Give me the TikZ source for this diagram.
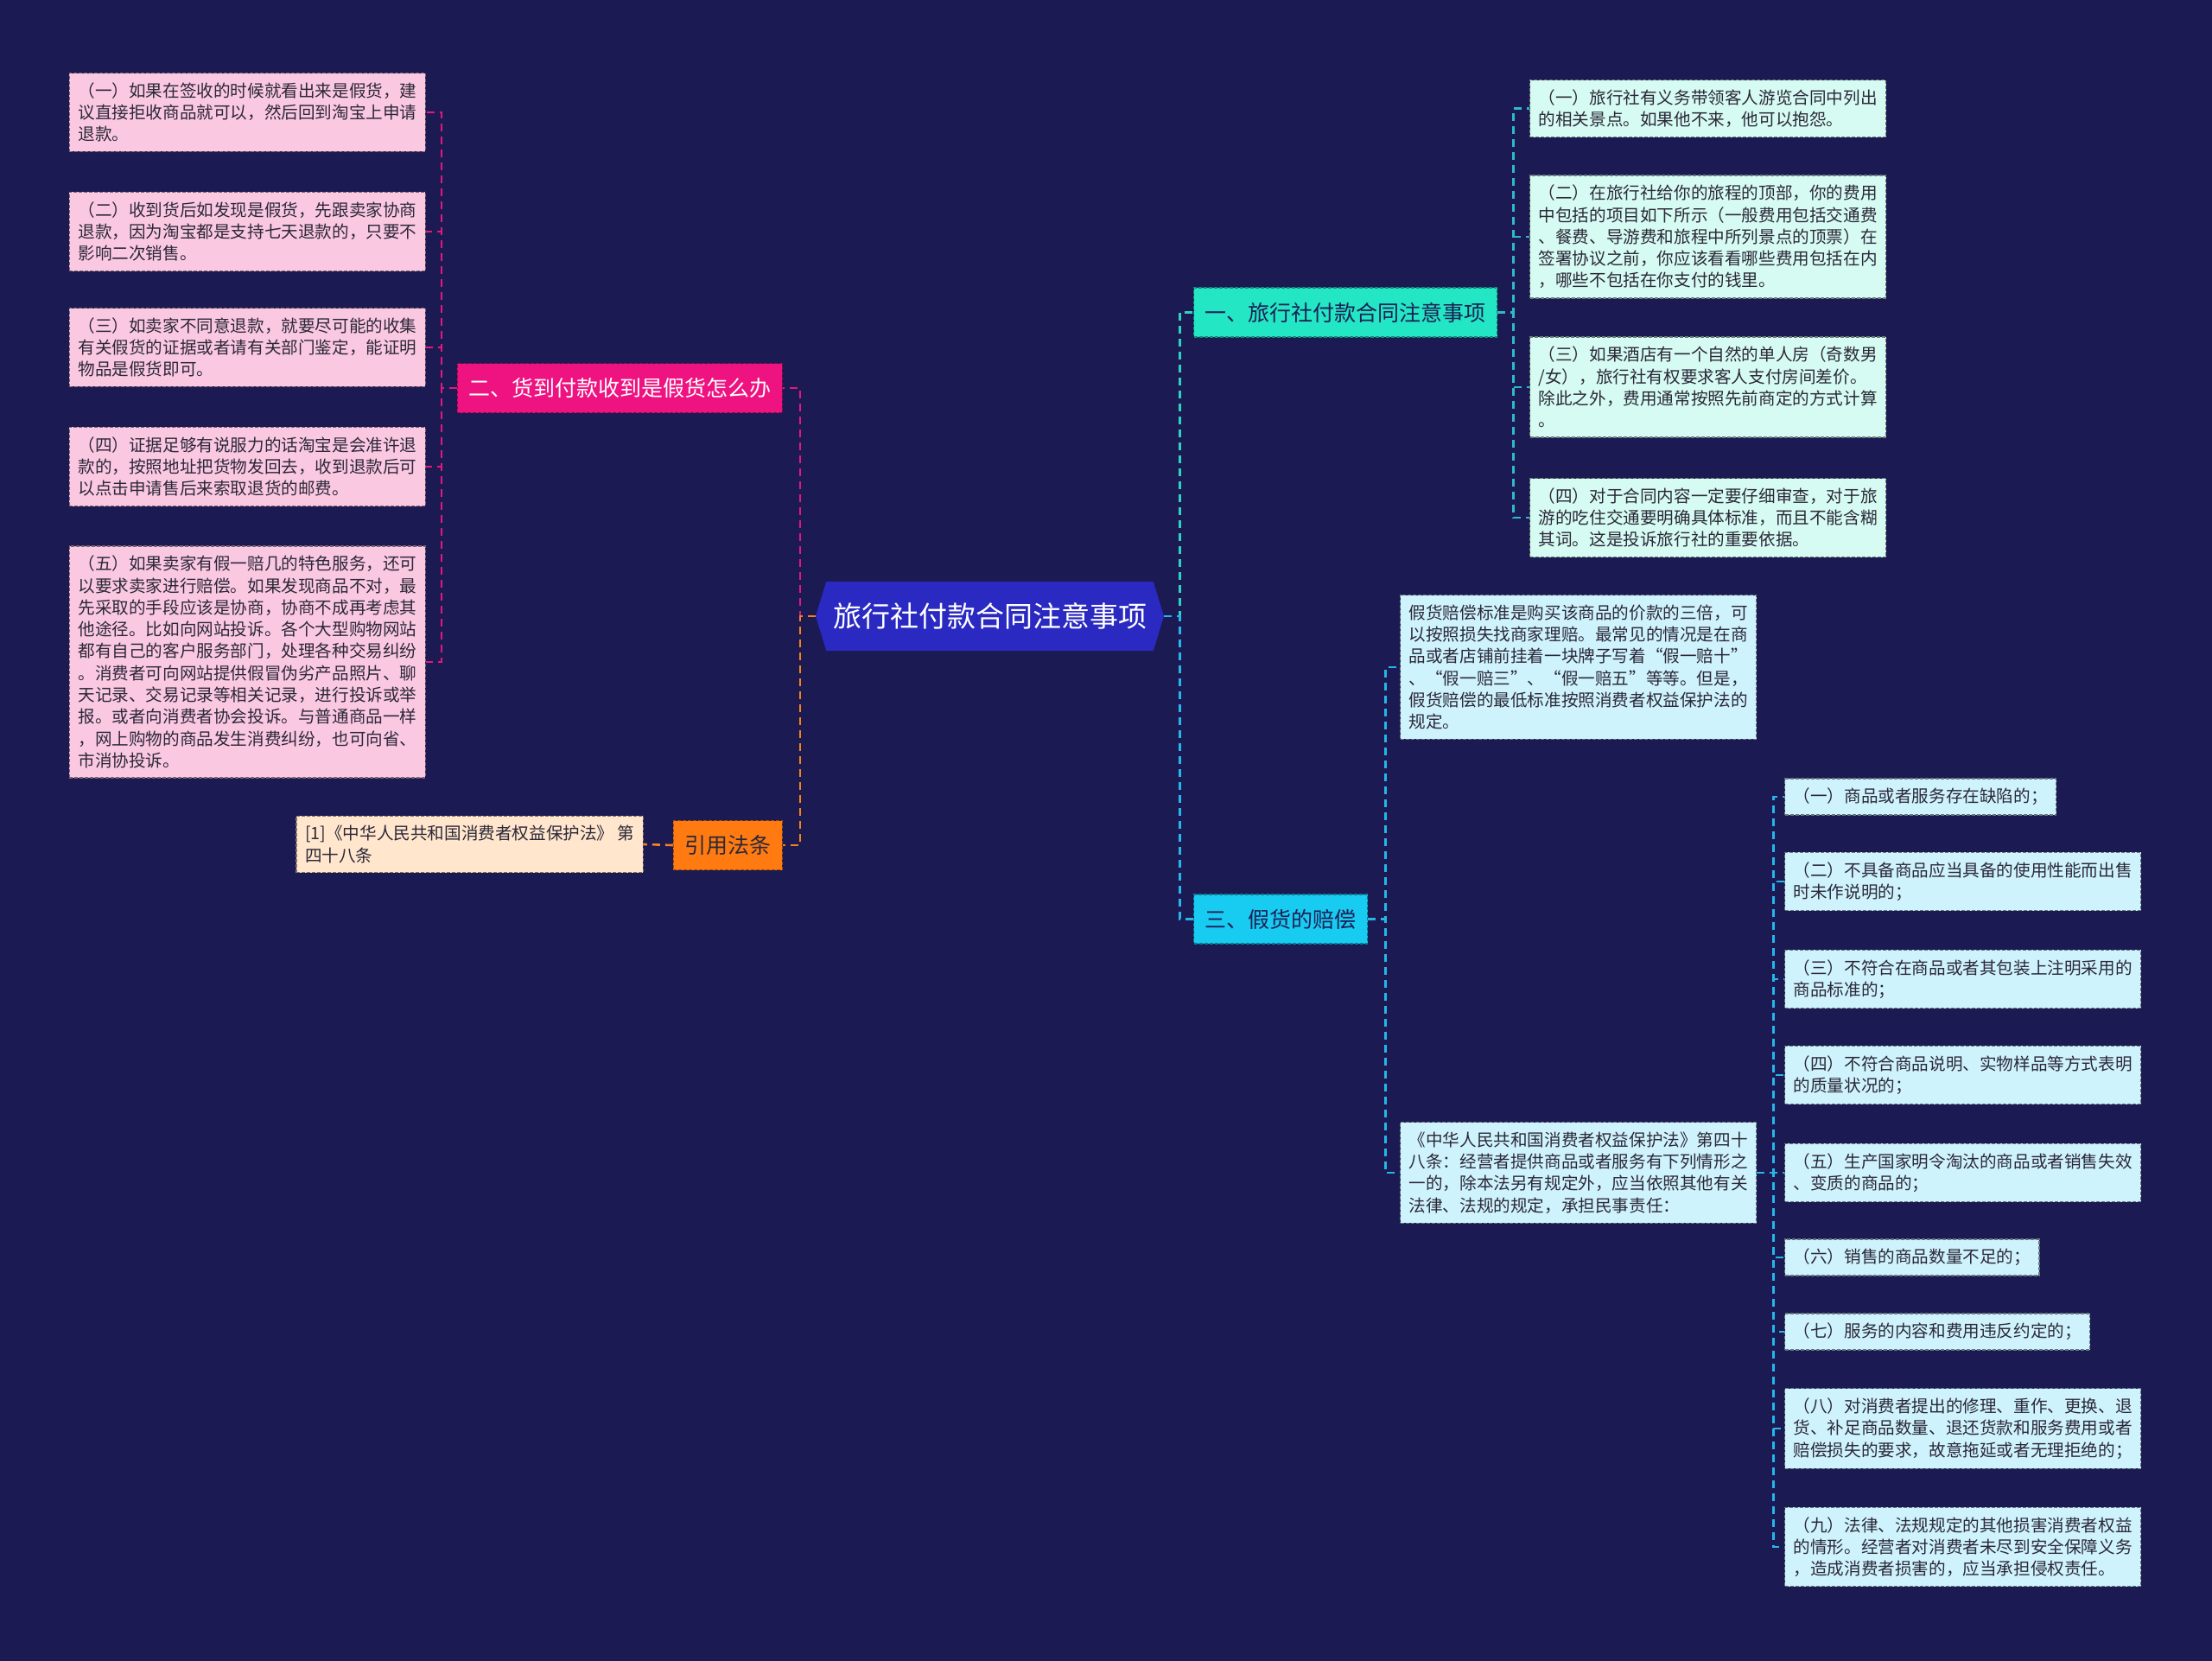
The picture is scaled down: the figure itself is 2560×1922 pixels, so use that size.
\documentclass[tikz,border=0pt]{standalone}
\usepackage{fontspec}
\setmainfont{Noto Sans CJK SC}
\usepackage{tikz}
\usetikzlibrary{shapes.symbols}
\definecolor{bgnavy}{HTML}{1C1A52}
\definecolor{hubblue}{HTML}{2A29C2}
\definecolor{mintfill}{HTML}{22E6C4}
\definecolor{cyanfill}{HTML}{17CBF1}
\definecolor{pinkfill}{HTML}{EE1380}
\definecolor{orangefill}{HTML}{FF7B12}
\definecolor{mintleaf}{HTML}{D6FBF2}
\definecolor{cyanleaf}{HTML}{CFF3FC}
\definecolor{pinkleaf}{HTML}{FBC8E2}
\definecolor{peachleaf}{HTML}{FFE6CC}
\definecolor{mintline}{HTML}{2BD3C2}
\definecolor{mintsub}{HTML}{2EB9CC}
\definecolor{cyanline}{HTML}{26B6EA}
\definecolor{pinkline}{HTML}{E2187F}
\definecolor{orangeline}{HTML}{F5821F}
\definecolor{darktext}{HTML}{2B2838}
\definecolor{navytext}{HTML}{1E1F55}

\begin{document}
\begin{tikzpicture}[
  x=1pt, y=-1pt,
  hub/.style={signal, signal to=west and east, signal pointer angle=146,
              fill=hubblue, text=white, font=\fontsize{33}{38}\selectfont,
              minimum width=403pt, minimum height=80pt, inner sep=0pt},
  topic/.style={fill=#1, draw=#1!60!black, line width=1.2pt,
                dash pattern=on 4pt off 2pt, minimum height=57pt,
                inner xsep=13pt, font=\fontsize{25}{30}\selectfont},
  leaf/.style={fill=#1, draw=#1!50!black, line width=1.2pt,
               dash pattern=on 4pt off 2pt, align=left, text=darktext,
               inner xsep=10pt, inner ysep=11pt,
               font=\fontsize{19.6}{25.3}\selectfont},
  link/.style={draw=#1, line width=2.6pt, dash pattern=on 9pt off 6pt}
]
  \useasboundingbox (0,0) rectangle (2560,1922);
  \fill[bgnavy] (0,0) rectangle (2560,1922);

  % centre
  \node[hub] (hub) at (1145.5,713) {旅行社付款合同注意事项};

  % main topics
  \node[topic=mintfill, text=navytext, anchor=west] (contract) at (1381,361.5) {一、旅行社付款合同注意事项};
  \node[topic=cyanfill, text=navytext, anchor=west] (fake) at (1381,1063.5) {三、假货的赔偿};
  \node[topic=pinkfill, text=white, anchor=east] (cod) at (906,449) {二、货到付款收到是假货怎么办};
  \node[topic=orangefill, text=darktext, anchor=east] (cite) at (906,978) {引用法条};

  % contract notes
  \node[leaf=mintleaf, anchor=west] (note1) at (1770,125.7)
    {（一）旅行社有义务带领客人游览合同中列出\\的相关景点。如果他不来，他可以抱怨。};
  \node[leaf=mintleaf, anchor=west] (note2) at (1770,274)
    {（二）在旅行社给你的旅程的顶部，你的费用\\中包括的项目如下所示（一般费用包括交通费\\、餐费、导游费和旅程中所列景点的顶票）在\\签署协议之前，你应该看看哪些费用包括在内\\，哪些不包括在你支付的钱里。};
  \node[leaf=mintleaf, anchor=west] (note3) at (1770,448)
    {（三）如果酒店有一个自然的单人房（奇数男\\/女），旅行社有权要求客人支付房间差价。\\除此之外，费用通常按照先前商定的方式计算\\。};
  \node[leaf=mintleaf, anchor=west] (note4) at (1770,599)
    {（四）对于合同内容一定要仔细审查，对于旅\\游的吃住交通要明确具体标准，而且不能含糊\\其词。这是投诉旅行社的重要依据。};

  % fake goods compensation
  \node[leaf=cyanleaf, anchor=west] (standard) at (1620,772)
    {假货赔偿标准是购买该商品的价款的三倍，可\\以按照损失找商家理赔。最常见的情况是在商\\品或者店铺前挂着一块牌子写着“假一赔十”\\、“假一赔三”、“假一赔五”等等。但是，\\假货赔偿的最低标准按照消费者权益保护法的\\规定。};
  \node[leaf=cyanleaf, anchor=west] (law) at (1620,1357)
    {《中华人民共和国消费者权益保护法》第四十\\八条：经营者提供商品或者服务有下列情形之\\一的，除本法另有规定外，应当依照其他有关\\法律、法规的规定，承担民事责任：};

  \node[leaf=cyanleaf, anchor=west] (case1) at (2065,922) {（一）商品或者服务存在缺陷的；};
  \node[leaf=cyanleaf, anchor=west] (case2) at (2065,1020)
    {（二）不具备商品应当具备的使用性能而出售\\时未作说明的；};
  \node[leaf=cyanleaf, anchor=west] (case3) at (2065,1133)
    {（三）不符合在商品或者其包装上注明采用的\\商品标准的；};
  \node[leaf=cyanleaf, anchor=west] (case4) at (2065,1244)
    {（四）不符合商品说明、实物样品等方式表明\\的质量状况的；};
  \node[leaf=cyanleaf, anchor=west] (case5) at (2065,1357)
    {（五）生产国家明令淘汰的商品或者销售失效\\、变质的商品的；};
  \node[leaf=cyanleaf, anchor=west] (case6) at (2065,1455) {（六）销售的商品数量不足的；};
  \node[leaf=cyanleaf, anchor=west] (case7) at (2065,1541) {（七）服务的内容和费用违反约定的；};
  \node[leaf=cyanleaf, anchor=west] (case8) at (2065,1653)
    {（八）对消费者提出的修理、重作、更换、退\\货、补足商品数量、退还货款和服务费用或者\\赔偿损失的要求，故意拖延或者无理拒绝的；};
  \node[leaf=cyanleaf, anchor=west] (case9) at (2065,1790)
    {（九）法律、法规规定的其他损害消费者权益\\的情形。经营者对消费者未尽到安全保障义务\\，造成消费者损害的，应当承担侵权责任。};

  % cash on delivery steps
  \node[leaf=pinkleaf, anchor=east] (step1) at (493,130)
    {（一）如果在签收的时候就看出来是假货，建\\议直接拒收商品就可以，然后回到淘宝上申请\\退款。};
  \node[leaf=pinkleaf, anchor=east] (step2) at (493,268)
    {（二）收到货后如发现是假货，先跟卖家协商\\退款，因为淘宝都是支持七天退款的，只要不\\影响二次销售。};
  \node[leaf=pinkleaf, anchor=east] (step3) at (493,402)
    {（三）如卖家不同意退款，就要尽可能的收集\\有关假货的证据或者请有关部门鉴定，能证明\\物品是假货即可。};
  \node[leaf=pinkleaf, anchor=east] (step4) at (493,540)
    {（四）证据足够有说服力的话淘宝是会准许退\\款的，按照地址把货物发回去，收到退款后可\\以点击申请售后来索取退货的邮费。};
  \node[leaf=pinkleaf, anchor=east] (step5) at (493,766)
    {（五）如果卖家有假一赔几的特色服务，还可\\以要求卖家进行赔偿。如果发现商品不对，最\\先采取的手段应该是协商，协商不成再考虑其\\他途径。比如向网站投诉。各个大型购物网站\\都有自己的客户服务部门，处理各种交易纠纷\\。消费者可向网站提供假冒伪劣产品照片、聊\\天记录、交易记录等相关记录，进行投诉或举\\报。或者向消费者协会投诉。与普通商品一样\\，网上购物的商品发生消费纠纷，也可向省、\\市消协投诉。};

  % reference
  \node[leaf=peachleaf, anchor=east] (lawref) at (745,977)
    {[1]《中华人民共和国消费者权益保护法》 第\\四十八条};

  % connectors
  \draw[link=pinkline] (hub.west) -- ++(-18,0) |- (cod.east);
  \draw[link=orangeline] (hub.west) -- ++(-18,0) |- (cite.east);
  \draw[link=mintline] (hub.east) -- ++(18,0) |- (contract.west);
  \draw[link=cyanline] (hub.east) -- ++(18,0) |- (fake.west);

  \draw[link=pinkline] (cod.west) -- ++(-18,0) |- (step1.east);
  \draw[link=pinkline] (cod.west) -- ++(-18,0) |- (step2.east);
  \draw[link=pinkline] (cod.west) -- ++(-18,0) |- (step3.east);
  \draw[link=pinkline] (cod.west) -- ++(-18,0) |- (step4.east);
  \draw[link=pinkline] (cod.west) -- ++(-18,0) |- (step5.east);
  \draw[link=orangeline] (cite.west) -- (lawref.east);

  \draw[link=mintsub] (contract.east) -- ++(18,0) |- (note1.west);
  \draw[link=mintsub] (contract.east) -- ++(18,0) |- (note2.west);
  \draw[link=mintsub] (contract.east) -- ++(18,0) |- (note3.west);
  \draw[link=mintsub] (contract.east) -- ++(18,0) |- (note4.west);

  \draw[link=cyanline] (fake.east) -- ++(20,0) |- (standard.west);
  \draw[link=cyanline] (fake.east) -- ++(20,0) |- (law.west);

  \draw[link=cyanline] (law.east) -- ++(19,0) |- (case1.west);
  \draw[link=cyanline] (law.east) -- ++(19,0) |- (case2.west);
  \draw[link=cyanline] (law.east) -- ++(19,0) |- (case3.west);
  \draw[link=cyanline] (law.east) -- ++(19,0) |- (case4.west);
  \draw[link=cyanline] (law.east) -- ++(19,0) |- (case5.west);
  \draw[link=cyanline] (law.east) -- ++(19,0) |- (case6.west);
  \draw[link=cyanline] (law.east) -- ++(19,0) |- (case7.west);
  \draw[link=cyanline] (law.east) -- ++(19,0) |- (case8.west);
  \draw[link=cyanline] (law.east) -- ++(19,0) |- (case9.west);
\end{tikzpicture}
\end{document}
